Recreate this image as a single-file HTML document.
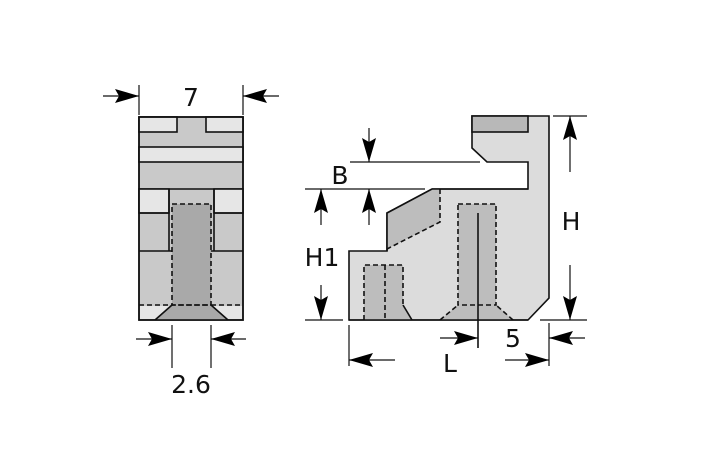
<!DOCTYPE html>
<html><head><meta charset="utf-8"><style>
html,body{margin:0;padding:0;background:#fff;}
svg{display:block;}
text{font-family:"DejaVu Sans","Liberation Sans",sans-serif;font-size:25px;fill:#111;}
</style></head><body>
<svg width="709" height="472" viewBox="0 0 709 472" xmlns="http://www.w3.org/2000/svg">
<defs>
<marker id="a" viewBox="0 0 24 14" refX="24" refY="7" markerWidth="24" markerHeight="14" markerUnits="userSpaceOnUse" orient="auto"><path d="M0,0L24,7L0,14L4,7z" fill="#000"/></marker>
</defs>
<g stroke="#111" stroke-width="1.6">
<rect x="139" y="117" width="104" height="203" fill="#c9c9c9"/>
<rect x="139" y="117" width="38" height="15" fill="#e6e6e6"/>
<rect x="206" y="117" width="37" height="15" fill="#e6e6e6"/>
<rect x="139" y="147" width="104" height="15" fill="#e6e6e6"/>
<line x1="139" y1="189" x2="243" y2="189"/>
<line x1="139" y1="251" x2="243" y2="251"/>
<rect x="139" y="189" width="30" height="24" fill="#e6e6e6"/>
<rect x="214" y="189" width="29" height="24" fill="#e6e6e6"/>
<line x1="139" y1="213" x2="169" y2="213"/><line x1="214" y1="213" x2="243" y2="213"/>
<line x1="169" y1="189" x2="169" y2="251"/><line x1="214" y1="189" x2="214" y2="251"/>
<rect x="140" y="306" width="102" height="13" fill="#e6e6e6" stroke="none"/>
<path d="M155,320L172,305L211,305L228,320Z" fill="#a9a9a9" stroke="none"/>
<rect x="172" y="204" width="39" height="101" fill="#a9a9a9" stroke-dasharray="5,3"/>
<line x1="139" y1="305" x2="243" y2="305" stroke-dasharray="5,3"/>
<line x1="155" y1="320" x2="172" y2="305"/><line x1="228" y1="320" x2="211" y2="305"/>
<rect x="139" y="117" width="104" height="203" fill="none"/>
<path d="M472,116L549,116L549,298L528,320L349,320L349,251L387,251L387,213L432,189L528,189L528,162L487,162L472,148Z" fill="#dcdcdc"/>
<rect x="472" y="116" width="56" height="16" fill="#b8b8b8"/>
<path d="M387,213L432,189L440,189L440,222L387,249Z" fill="#bdbdbd" stroke="none"/>
<path d="M440,189L440,222L387,249" fill="none" stroke-dasharray="5,3"/>
<path d="M387,251L387,213L432,189L528,189" fill="none"/>
<path d="M440,320L458,305L496,305L513,320Z" fill="#bdbdbd" stroke="none"/>
<rect x="458" y="204" width="38" height="101" fill="#bdbdbd" stroke-dasharray="5,3"/>
<path d="M440,320L458,305M513,320L496,305" stroke-dasharray="5,3"/>
<path d="M364,320L364,265L403,265L403,305L412,320Z" fill="#bdbdbd" stroke="none"/>
<path d="M364,320L364,265L403,265L403,305M385,265L385,320" fill="none" stroke-dasharray="5,3"/>
<line x1="403" y1="305" x2="412" y2="320"/>
<line x1="478" y1="213" x2="478" y2="348"/>
<line x1="349" y1="320" x2="528" y2="320"/>
<g stroke-width="1.2" fill="none">
<line x1="139" y1="85" x2="139" y2="115"/><line x1="243" y1="85" x2="243" y2="115"/>
<line x1="103" y1="96" x2="139" y2="96" marker-end="url(#a)"/><line x1="279" y1="96" x2="243" y2="96" marker-end="url(#a)"/>
<line x1="172" y1="325" x2="172" y2="368"/><line x1="211" y1="325" x2="211" y2="368"/>
<line x1="136" y1="339" x2="172" y2="339" marker-end="url(#a)"/><line x1="246" y1="339" x2="211" y2="339" marker-end="url(#a)"/>
<line x1="350" y1="162" x2="480" y2="162"/><line x1="305" y1="189" x2="425" y2="189"/>
<line x1="305" y1="320" x2="343" y2="320"/>
<line x1="369" y1="128" x2="369" y2="162" marker-end="url(#a)"/><line x1="369" y1="225" x2="369" y2="189" marker-end="url(#a)"/>
<line x1="321" y1="225" x2="321" y2="189" marker-end="url(#a)"/><line x1="321" y1="285" x2="321" y2="320" marker-end="url(#a)"/>
<line x1="553" y1="116" x2="587" y2="116"/><line x1="540" y1="320" x2="587" y2="320"/>
<line x1="570" y1="172" x2="570" y2="116" marker-end="url(#a)"/><line x1="570" y1="265" x2="570" y2="320" marker-end="url(#a)"/>
<line x1="349" y1="325" x2="349" y2="366"/><line x1="549" y1="323" x2="549" y2="366"/>
<line x1="395" y1="360" x2="349" y2="360" marker-end="url(#a)"/><line x1="505" y1="360" x2="549" y2="360" marker-end="url(#a)"/>
<line x1="440" y1="338" x2="478" y2="338" marker-end="url(#a)"/><line x1="585" y1="338" x2="549" y2="338" marker-end="url(#a)"/>
</g>
</g>
<text x="191" y="106" text-anchor="middle">7</text>
<text x="191" y="393" text-anchor="middle">2.6</text>
<text x="340" y="184" text-anchor="middle">B</text>
<text x="322" y="266" text-anchor="middle">H1</text>
<text x="571" y="230" text-anchor="middle">H</text>
<text x="450" y="372" text-anchor="middle">L</text>
<text x="513" y="347" text-anchor="middle">5</text>
</svg>
</body></html>
